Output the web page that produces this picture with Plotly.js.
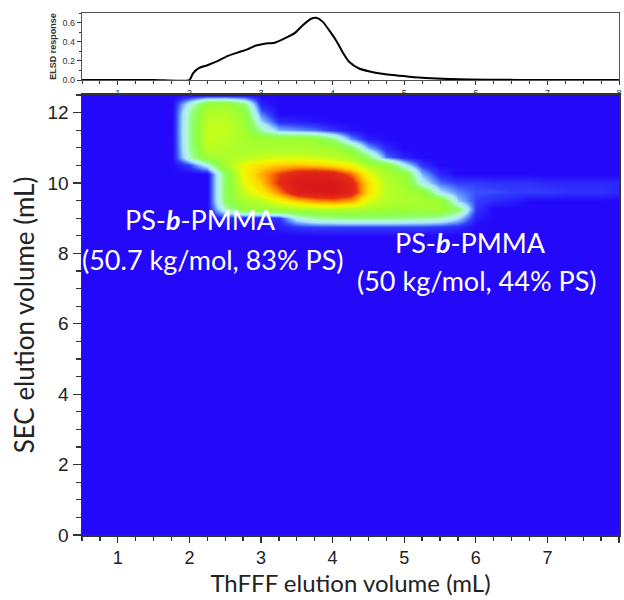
<!DOCTYPE html>
<html>
<head>
<meta charset="utf-8">
<script src="https://cdn.plot.ly/plotly-3.0.1.min.js"></script>
<style>html,body{margin:0;padding:0;background:#fff;}#chart{width:624px;height:600px;}</style>
</head>
<body>
<div id="chart"></div>
<script>
// ELSD trace (top panel)
const elsdX = [0.5, 1.0, 1.5, 2.0, 2.05, 2.12, 2.26, 2.4, 2.53, 2.67, 2.81, 2.93, 3.05, 3.19, 3.33, 3.47, 3.58, 3.7, 3.77, 3.86, 3.98, 4.06, 4.14, 4.23, 4.37, 4.6, 4.84, 5.07, 5.3, 5.63, 6.19, 7.0, 8.0];
const elsdY = [0, 0, 0, 0, 0.07, 0.12, 0.157, 0.2, 0.25, 0.286, 0.32, 0.36, 0.38, 0.39, 0.435, 0.49, 0.57, 0.64, 0.65, 0.61, 0.49, 0.40, 0.29, 0.19, 0.12, 0.077, 0.052, 0.035, 0.021, 0.01, 0.003, 0, 0];

// 2D map grid (bottom panel)
const thfffX = [0.5,0.75,1.0,1.25,1.5,1.75,2.0,2.25,2.5,2.75,3.0,3.25,3.5,3.75,4.0,4.25,4.5,4.75,5.0,5.25,5.5,5.75,6.0,6.25,6.5,6.75,7.0,7.25,7.5,7.75,8.0];
const secY = [0, 8.5, 8.75, 9.0, 9.25, 9.5, 9.75, 10.0, 10.25, 10.5, 10.75, 11.0, 11.25, 11.5, 11.75, 12.0, 12.25, 12.5];
const intensity = [
 /* 0.0  */ [0,0,0,0,0, 0,0,0,0,0,0,0,0,0,0,0,0,0,0,0,0,0,0,0,0,0,0,0,0,0,0],
 /* 8.5  */ [0,0,0,0,0, 0,0,0,0,0,0,0,0,0,0,0,0,0,0,0,0,0,0,0,0,0,0,0,0,0,0],
 /* 8.75 */ [0,0,0,0,0, 0,0,0,0,0,0,2,4,5,5,5,5,5,5,5,4,3,0,0,0,0,0,0,0,0,0],
 /* 9.0  */ [0,0,0,0,0, 0,0,0,3,2,2,4,18,24,26,27,27,27,26,25,23,15,2,0,0,0,0,0,0,0,0],
 /* 9.25 */ [0,0,0,0,0, 0,0,0,22,36,38,40,42,44,45,44,42,40,40,40,40,30,4,0,0,0,0,0,0,0,0],
 /* 9.5  */ [0,0,0,0,0, 0,0,0,30,42,46,55,65,72,75,70,52,44,42,42,40,14,5,3,2,0,0,0,0,0,0],
 /* 9.75 */ [0,0,0,0,0, 0,0,0,30,48,58,75,95,100,100,92,62,45,42,38,16,9,6,6,5,5,5,4,4,4,3],
 /* 10.0 */ [0,0,0,0,0, 0,0,0,30,52,66,85,100,100,100,90,62,45,40,18,8,5,5,4,4,4,3,3,3,3,3],
 /* 10.25*/ [0,0,0,0,0, 0,0,0,30,55,70,82,92,95,92,78,55,42,38,12,3,0,0,0,0,0,0,0,0,0,0],
 /* 10.5 */ [0,0,0,0,0, 0,5,18,42,55,62,66,68,66,62,55,42,38,18,4,0,0,0,0,0,0,0,0,0,0,0],
 /* 10.75*/ [0,0,0,0,0, 0,22,40,42,45,48,50,50,48,46,42,30,8,2,0,0,0,0,0,0,0,0,0,0,0,0],
 /* 11.0 */ [0,0,0,0,0, 0,24,46,44,42,42,42,42,42,40,32,12,3,0,0,0,0,0,0,0,0,0,0,0,0,0],
 /* 11.25*/ [0,0,0,0,0, 0,25,48,46,42,40,40,40,38,28,10,2,0,0,0,0,0,0,0,0,0,0,0,0,0,0],
 /* 11.5 */ [0,0,0,0,0, 0,25,48,48,42,24,12,10,8,4,1,0,0,0,0,0,0,0,0,0,0,0,0,0,0,0],
 /* 11.75*/ [0,0,0,0,0, 0,25,46,46,40,14,3,2,1,0,0,0,0,0,0,0,0,0,0,0,0,0,0,0,0,0],
 /* 12.0 */ [0,0,0,0,0, 0,24,44,44,38,8,0,0,0,0,0,0,0,0,0,0,0,0,0,0,0,0,0,0,0,0],
 /* 12.25*/ [0,0,0,0,0, 0,18,38,40,30,2,0,0,0,0,0,0,0,0,0,0,0,0,0,0,0,0,0,0,0,0],
 /* 12.5 */ [0,0,0,0,0, 0,0,0,0,0,0,0,0,0,0,0,0,0,0,0,0,0,0,0,0,0,0,0,0,0,0]
];

const xTicks = [1,2,3,4,5,6,7,8];
const yTicks = [0,2,4,6,8,10,12];
const elsdTicks = [0, 0.2, 0.4, 0.6];

const cs = [
  [0.00, 'rgb(35,8,250)'],
  [0.05, 'rgb(50,60,252)'],
  [0.10, 'rgb(95,150,255)'],
  [0.15, 'rgb(170,225,255)'],
  [0.21, 'rgb(175,250,215)'],
  [0.28, 'rgb(145,255,110)'],
  [0.36, 'rgb(145,255,60)'],
  [0.46, 'rgb(185,255,35)'],
  [0.55, 'rgb(240,250,0)'],
  [0.64, 'rgb(255,215,0)'],
  [0.74, 'rgb(255,140,0)'],
  [0.84, 'rgb(232,45,20)'],
  [1.00, 'rgb(215,25,25)']
];

const traces = [
  {
    type: 'heatmap', x: thfffX, y: secY, z: intensity,
    zmin: 0, zmax: 100, zsmooth: 'best', colorscale: cs, showscale: false,
    xaxis: 'x', yaxis: 'y', hoverinfo: 'skip'
  },
  {
    type: 'scatter', mode: 'lines', x: elsdX, y: elsdY,
    line: {color: '#000', width: 2, shape: 'spline', smoothing: 0.6},
    xaxis: 'x2', yaxis: 'y2', hoverinfo: 'skip'
  }
];

const axFont = {family: 'Liberation Sans, Arial, sans-serif', size: 19, color: '#222'};
const smallFont = {family: 'Liberation Sans, Arial, sans-serif', size: 9, color: '#333'};
const annFont = {family: 'Lato, Open Sans, sans-serif', size: 27, color: '#fff'};

const layout = {
  width: 624, height: 600,
  margin: {l: 82, r: 5, t: 13, b: 65},
  paper_bgcolor: '#fff', plot_bgcolor: '#fff',
  showlegend: false,
  xaxis: {
    domain: [0, 1], range: [0.5, 8], anchor: 'y',
    tickvals: xTicks, ticks: 'outside', ticklen: 6, tickwidth: 1.3, tickcolor: '#333',
    minor: {dtick: 0.25, tick0: 0, ticks: 'outside', ticklen: 4, tickcolor: '#333'},
    showline: true, linecolor: '#333', linewidth: 1.5, mirror: true,
    showgrid: false, zeroline: false, tickfont: {family: 'Liberation Sans, Arial, sans-serif', size: 18, color: '#222'},
    title: {text: 'ThFFF elution volume (mL)', font: {family: 'Lato, Open Sans, sans-serif', size: 24, color: '#222'}, standoff: 7}
  },
  yaxis: {
    domain: [0, 0.843], range: [0, 12.5], anchor: 'x',
    tickvals: yTicks, ticks: 'outside', ticklen: 8, tickwidth: 1.3, tickcolor: '#333',
    minor: {dtick: 0.5, tick0: 0, ticks: 'outside', ticklen: 5, tickcolor: '#333'},
    showline: true, linecolor: '#333', linewidth: 1.5, mirror: true,
    showgrid: false, zeroline: false, tickfont: axFont,
    title: {text: 'SEC elution volume (mL)', font: {family: 'Lato, Open Sans, sans-serif', size: 26, color: '#222'}, standoff: 5}
  },
  xaxis2: {
    domain: [0, 1], range: [0.5, 8], anchor: 'y2',
    tickvals: xTicks, ticks: 'outside', ticklen: 4, tickcolor: '#333',
    minor: {dtick: 0.25, tick0: 0, ticks: 'outside', ticklen: 3, tickcolor: '#333'},
    showline: true, linecolor: '#555', linewidth: 1.2, mirror: true,
    showgrid: false, zeroline: false, tickfont: smallFont
  },
  yaxis2: {
    domain: [0.8716, 1], range: [0, 0.7], anchor: 'x2',
    tickvals: elsdTicks, tickformat: '.1f', ticks: 'outside', ticklen: 4, tickcolor: '#333',
    minor: {dtick: 0.1, ticks: 'outside', ticklen: 2, tickcolor: '#333'},
    showline: true, linecolor: '#555', linewidth: 1.2, mirror: true,
    showgrid: false, zeroline: false, tickfont: smallFont,
    title: {text: '<b>ELSD response</b>', font: {family: 'Liberation Sans, Arial, sans-serif', size: 9, color: '#333'}, standoff: 4}
  },
  annotations: [
    {xref: 'x', yref: 'y', x: 2.16, y: 8.96, text: 'PS-<b><i>b</i></b>-PMMA', showarrow: false, font: annFont},
    {xref: 'x', yref: 'y', x: 2.33, y: 7.83, text: '(50.7 kg/mol, 83% PS)', showarrow: false, font: annFont},
    {xref: 'x', yref: 'y', x: 5.92, y: 8.31, text: 'PS-<b><i>b</i></b>-PMMA', showarrow: false, font: annFont},
    {xref: 'x', yref: 'y', x: 6.02, y: 7.24, text: '(50 kg/mol, 44% PS)', showarrow: false, font: annFont}
  ]
};

Plotly.newPlot('chart', traces, layout, {displayModeBar: false, staticPlot: true});
</script>
</body>
</html>
